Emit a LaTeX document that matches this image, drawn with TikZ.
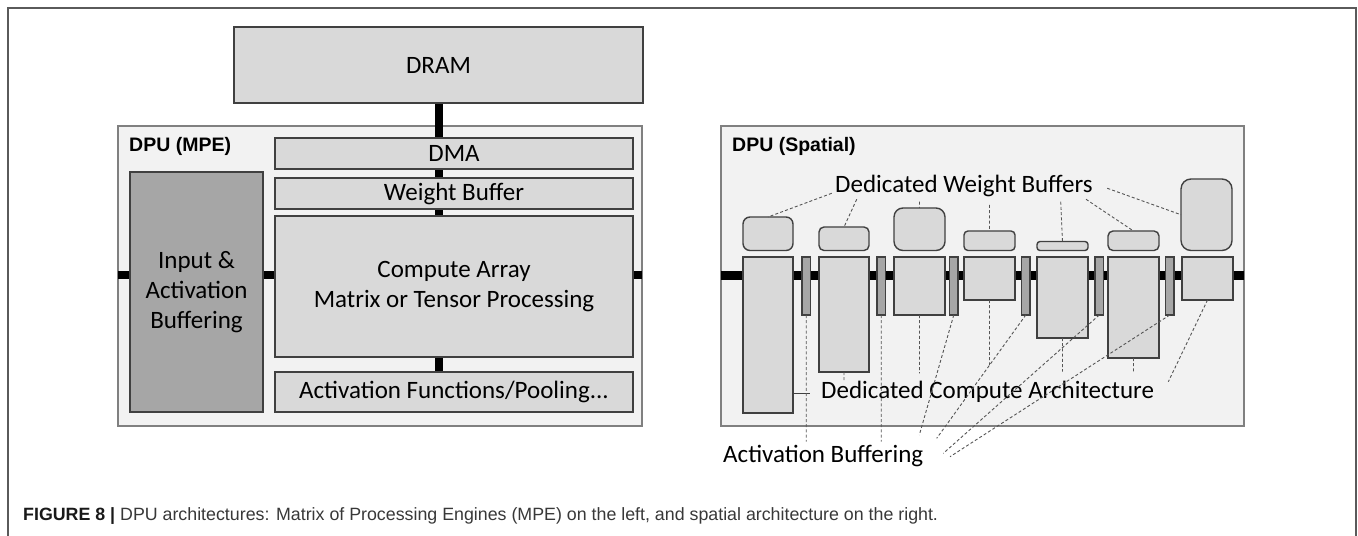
\documentclass[tikz,border=0pt]{standalone}
\usepackage{fontspec}
\setmainfont{Carlito}
\newfontfamily\arialf{Liberation Sans}
\usetikzlibrary{calc}
\pgfdeclarelayer{bg}
\pgfdeclarelayer{buslayer}
\pgfsetlayers{bg,buslayer,main}
\definecolor{boxfill}{HTML}{D9D9D9}
\definecolor{boxline}{HTML}{404040}
\definecolor{dpufill}{HTML}{F2F2F2}
\definecolor{dpuline}{HTML}{808080}
\definecolor{darkfill}{HTML}{A6A6A6}
\definecolor{leader}{HTML}{555555}
\definecolor{framec}{HTML}{5A5A5A}
\tikzset{
  blk/.style={draw=boxline, fill=boxfill, line width=1.4bp, inner sep=0pt, outer sep=0pt,
    anchor=north west, font=\fontsize{25bp}{30bp}\selectfont, align=center},
  dpubox/.style={draw=dpuline, fill=dpufill, line width=1.5bp, inner sep=0pt, outer sep=0pt, anchor=north west},
  darkblk/.style={blk, fill=darkfill},
  wbuf/.style={blk, rounded corners=#1},
  bus/.style={line width=8bp, black},
  sbus/.style={line width=9bp, black},
  lead/.style={draw=leader, line width=0.9bp, dash pattern=on 3bp off 2.2bp},
  lbl/.style={font=\fontsize{25bp}{30bp}\selectfont, anchor=base west, inner sep=0pt},
  dpulbl/.style={font=\arialf\bfseries\fontsize{19.5bp}{22bp}\selectfont, anchor=base west, inner sep=0pt},
}
\begin{document}
\begin{tikzpicture}[x=1bp, y=-1bp]
\useasboundingbox (0,0) rectangle (1358,536);
% outer figure frame
\draw[framec, line width=2bp] (8,536) -- (8,8) -- (1356,8) -- (1356,536);

% ---------------- Left: DPU (MPE) ----------------
\begin{pgfonlayer}{bg}
\node[dpubox, minimum width=524bp, minimum height=300bp] (mpe) at (118,126) {};
\node[dpubox, minimum width=523bp, minimum height=300bp] (spat) at (721,126) {};
\end{pgfonlayer}
\node[dpulbl] (mpel) at (129,152) {DPU (MPE)};
\node[dpulbl] (spatl) at (732,152) {DPU (Spatial)};

\node[blk, minimum width=409bp, minimum height=76bp] (dram) at (234,27) {DRAM};
\node[blk, minimum width=358bp, minimum height=31bp] (dma) at (275,138) {DMA};
\node[blk, minimum width=358bp, minimum height=31bp] (wb) at (275,178) {Weight Buffer};
\node[blk, minimum width=358bp, minimum height=141bp] (ca) at (275,216) {Compute Array\\Matrix or Tensor Processing};
\node[blk, minimum width=358bp, minimum height=40bp] (af) at (275,372) {Activation Functions/Pooling...};
\node[darkblk, minimum width=133bp, minimum height=240bp] (ia) at (130,172) {Input \&\\Activation\\Buffering};

\begin{pgfonlayer}{buslayer}
\draw[bus] (dram.south) -- (dram.south |- af.north);
\draw[bus] (mpe.west |- 0,275) -- (mpe.east |- 0,275);
\draw[sbus] (spat.west |- 0,275.5) -- (spat.east |- 0,275.5);
\end{pgfonlayer}

% ---------------- Right: DPU (Spatial) ----------------
% compute blocks
\node[blk, minimum width=50bp, minimum height=156bp] (cb1) at (743,257) {};
\node[blk, minimum width=50bp, minimum height=115bp] (cb2) at (819,257) {};
\node[blk, minimum width=51bp, minimum height=58bp] (cb3) at (894,257) {};
\node[blk, minimum width=51bp, minimum height=43bp] (cb4) at (964,257) {};
\node[blk, minimum width=51bp, minimum height=81bp] (cb5) at (1037,257) {};
\node[blk, minimum width=51bp, minimum height=101bp] (cb6) at (1108,257) {};
\node[blk, minimum width=51bp, minimum height=43bp] (cb7) at (1182,257) {};
% weight buffers
\node[wbuf=7bp, minimum width=50bp, minimum height=33.5bp] (wb1) at (743,217) {};
\node[wbuf=5bp, minimum width=50bp, minimum height=23.5bp] (wb2) at (819,227) {};
\node[wbuf=9bp, minimum width=51bp, minimum height=42.5bp] (wb3) at (894,208) {};
\node[wbuf=4bp, minimum width=51bp, minimum height=19.5bp] (wb4) at (964,231) {};
\node[wbuf=3bp, minimum width=51bp, minimum height=9bp] (wb5) at (1037,241.5) {};
\node[wbuf=5bp, minimum width=51bp, minimum height=19.5bp] (wb6) at (1108,231) {};
\node[wbuf=10bp, minimum width=51bp, minimum height=71.5bp] (wb7) at (1181,179) {};
% activation buffers
\node[darkblk, minimum width=8.5bp, minimum height=58bp] (ab1) at (802,257) {};
\node[darkblk, minimum width=8.5bp, minimum height=58bp] (ab2) at (877,257) {};
\node[darkblk, minimum width=8.5bp, minimum height=58bp] (ab3) at (949.5,257) {};
\node[darkblk, minimum width=8.5bp, minimum height=58bp] (ab4) at (1021.5,257) {};
\node[darkblk, minimum width=8.5bp, minimum height=58bp] (ab5) at (1095,257) {};
\node[darkblk, minimum width=8.5bp, minimum height=58bp] (ab6) at (1165.5,257) {};

% labels
\node[lbl] (wlab) at (835,192.3) {Dedicated Weight Buffers};
\node[lbl] (clab) at (821,398.3) {Dedicated Compute Architecture};
\node[lbl] (alab) at (723,462) {Activation Buffering};

% leader end points
\coordinate (w1) at (831.7,193.3);
\coordinate (w2) at (856.7,199.3);
\coordinate (w3) at (919.5,201.7);
\coordinate (w4) at (989.5,205);
\coordinate (w5) at (1060.7,201.7);
\coordinate (w6) at (1086,199.3);
\coordinate (w7) at (1107.3,188.3);
\coordinate (c1) at (810,393.3);
\coordinate (c2) at (844,381.7);
\coordinate (c3) at (919.5,373.3);
\coordinate (c4) at (989.5,365);
\coordinate (c5) at (1062.5,371.7);
\coordinate (c6) at (1133.5,373.3);
\coordinate (c7) at (1168.3,381.7);
\coordinate (a1) at (806.25,441.7);
\coordinate (a2) at (881.25,441.7);
\coordinate (a3) at (919.3,435);
\coordinate (a4) at (936.7,438.3);
\coordinate (a5) at (943.3,453.3);
\coordinate (a6) at (950,456.7);

% weight buffer leaders
\draw[lead] (w1) -- (wb1.north);
\draw[lead] (w2) -- (wb2.north);
\draw[lead] (w3) -- (wb3.north);
\draw[lead] (w4) -- (wb4.north);
\draw[lead] (w5) -- (wb5.north);
\draw[lead] (w6) -- (wb6.north);
\draw[lead] (w7) -- (wb7.west);
% compute leaders
\draw[boxline, line width=0.9bp] (cb1.east |- c1) -- (c1);
\draw[lead] (cb2.south) -- (c2);
\draw[lead] (cb3.south) -- (c3);
\draw[lead] (cb4.south) -- (c4);
\draw[lead] (cb5.south) -- (c5);
\draw[lead] (cb6.south) -- (c6);
\draw[lead] (cb7.south) -- (c7);
% activation leaders
\draw[lead] (ab1.south) -- (a1);
\draw[lead] (ab2.south) -- (a2);
\draw[lead] (ab3.south) -- (a3);
\draw[lead] (ab4.south) -- (a4);
\draw[lead] (ab5.south) -- (a5);
\draw[lead] (ab6.south) -- (a6);

% caption
\node[anchor=base west, inner sep=0pt, font=\arialf\fontsize{17.8bp}{21bp}\selectfont] (cap) at (23,520)
  {\textcolor{black!90}{\bfseries FIGURE 8 |} \textcolor{black!78}{DPU architectures: Matrix of Processing Engines (MPE) on the left, and spatial architecture on the right.}};
\end{tikzpicture}
\end{document}
